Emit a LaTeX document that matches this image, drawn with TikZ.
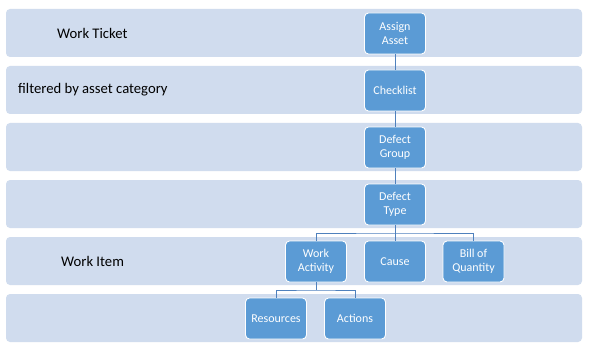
\documentclass[tikz,border=0pt]{standalone}
\usepackage{fontspec}
\setmainfont{Carlito}
\definecolor{bandfill}{RGB}{208,220,238}
\definecolor{boxfill}{RGB}{91,155,213}
\definecolor{linkcol}{RGB}{79,129,189}
\begin{document}
\begin{tikzpicture}[x=1pt,y=-1pt,
  band/.style={fill=bandfill,draw=none,rounded corners=4pt,minimum width=576pt,minimum height=48pt,inner sep=0pt},
  box/.style={fill=boxfill,draw=white,line width=0.9pt,rounded corners=4pt,minimum width=61pt,minimum height=41pt,inner sep=1pt,text=white,align=center,font=\fontsize{12}{13.5}\selectfont},
  lbl/.style={anchor=west,inner sep=0pt,text=black,font=\fontsize{14.67}{17}\selectfont},
  link/.style={draw=linkcol,line width=1pt}]
\useasboundingbox (0,0) rectangle (591,350);
\fill[white] (0,0) rectangle (591,350);
% bands
\node[band] (b1) at (294,33) {};
\node[band] (b2) at (294,90) {};
\node[band] (b3) at (294,147) {};
\node[band] (b4) at (294,204) {};
\node[band] (b5) at (294,261) {};
\node[band] (b6) at (294,318) {};
% labels
\node[lbl] (l1) at (57,33) {Work Ticket};
\node[lbl] (l2) at (18,90) {filtered by asset category};
\node[lbl] (l3) at (61,261) {Work Item};
% boxes
\node[box] (assign) at (395,33.5) {Assign\\Asset};
\node[box] (check) at (395,90.5) {Checklist};
\node[box] (dgroup) at (395,147.5) {Defect\\Group};
\node[box] (dtype) at (395,204.5) {Defect\\Type};
\node[box] (wact) at (316,261.5) {Work\\Activity};
\node[box] (cause) at (395,261.5) {Cause};
\node[box] (boq) at (473.5,261.5) {Bill of\\Quantity};
\node[box] (res) at (276,318.5) {Resources};
\node[box] (act) at (355,318.5) {Actions};
% connectors
\coordinate (j1) at (395,233);
\coordinate (j2) at (316,290);
\begin{scope}[on background layer/.style={}]
\draw[link] (assign.south) -- (check.north);
\draw[link] (check.south) -- (dgroup.north);
\draw[link] (dgroup.south) -- (dtype.north);
\draw[link] (dtype.south) -- (j1);
\draw[link] (wact.north) |- (j1) -| (boq.north);
\draw[link] (j1) -- (cause.north);
\draw[link] (wact.south) -- (j2);
\draw[link] (res.north) |- (j2) -| (act.north);
\end{scope}
\end{tikzpicture}
\end{document}
